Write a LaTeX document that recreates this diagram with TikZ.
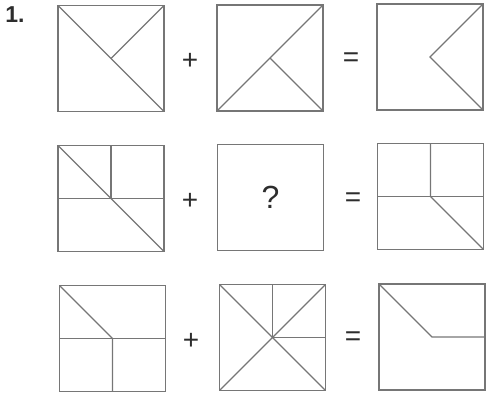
\documentclass[tikz,border=0pt]{standalone}
\usepackage{fontspec}
\setmainfont{Liberation Sans}
\usetikzlibrary{positioning}
\usepackage{xcolor}
\definecolor{pzgray}{RGB}{118,118,118}
\definecolor{pzink}{RGB}{45,45,45}
\tikzset{
    tile/.style={
        draw=pzgray,line width=1.3pt,minimum size=106pt,
        inner sep=0pt,outer sep=0pt
    },
    cut/.style={
        draw=pzgray,line width=1.2pt
    },
    sign/.style={
        font=\fontsize{28}{28}\selectfont,text=pzink
    }
}

\begin{document}
\begin{tikzpicture}[x=1pt,y=-1pt]

\useasboundingbox (0,0) rectangle (487,396);

\node[font=\fontsize{23}{23}\selectfont\bfseries,text=pzink] (num) at (15,15) {1.};

% row 1
\node[tile] (a1) at (111,58.5) {};
\node[tile] (b1) at (270,58) {};
\node[tile] (c1) at (430,57) {};
\node[sign] (p1) at (190,61) {+};
\node[sign] (e1) at (351,60) {=};

\draw[cut] (a1.north west) -- (a1.south east);
\draw[cut] (a1.center) -- (a1.north east);
\draw[cut] (b1.south west) -- (b1.north east);
\draw[cut] (b1.center) -- (b1.south east);
\draw[cut] (c1.north east) -- (c1.center) -- (c1.south east);

% row 2
\node[tile] (a2) at (111,198.5) {};
\node[tile] (b2) at (270.5,197.5) {};
\node[tile] (c2) at (430.5,196.5) {};
\node[sign] (p2) at (190,201) {+};
\node[sign] (e2) at (353,200) {=};
\node[font=\fontsize{32}{32}\selectfont,text=pzink] (q) at (b2.center) {?};

\draw[cut] (a2.north west) -- (a2.south east);
\draw[cut] (a2.north) -- (a2.center);
\draw[cut] (a2.west) -- (a2.east);
\draw[cut] (c2.north) -- (c2.center) -- (c2.south east);
\draw[cut] (c2.west) -- (c2.east);

% row 3
\node[tile] (a3) at (112.5,338.5) {};
\node[tile] (b3) at (272.5,337.5) {};
\node[tile] (c3) at (432,337) {};
\node[sign] (p3) at (191,341) {+};
\node[sign] (e3) at (353,339) {=};

\draw[cut] (a3.north west) -- (a3.center) -- (a3.south);
\draw[cut] (a3.west) -- (a3.east);
\draw[cut] (b3.north west) -- (b3.south east);
\draw[cut] (b3.south west) -- (b3.north east);
\draw[cut] (b3.north) -- (b3.center) -- (b3.east);
\draw[cut] (c3.north west) -- (c3.center) -- (c3.east);

\end{tikzpicture}
\end{document}
